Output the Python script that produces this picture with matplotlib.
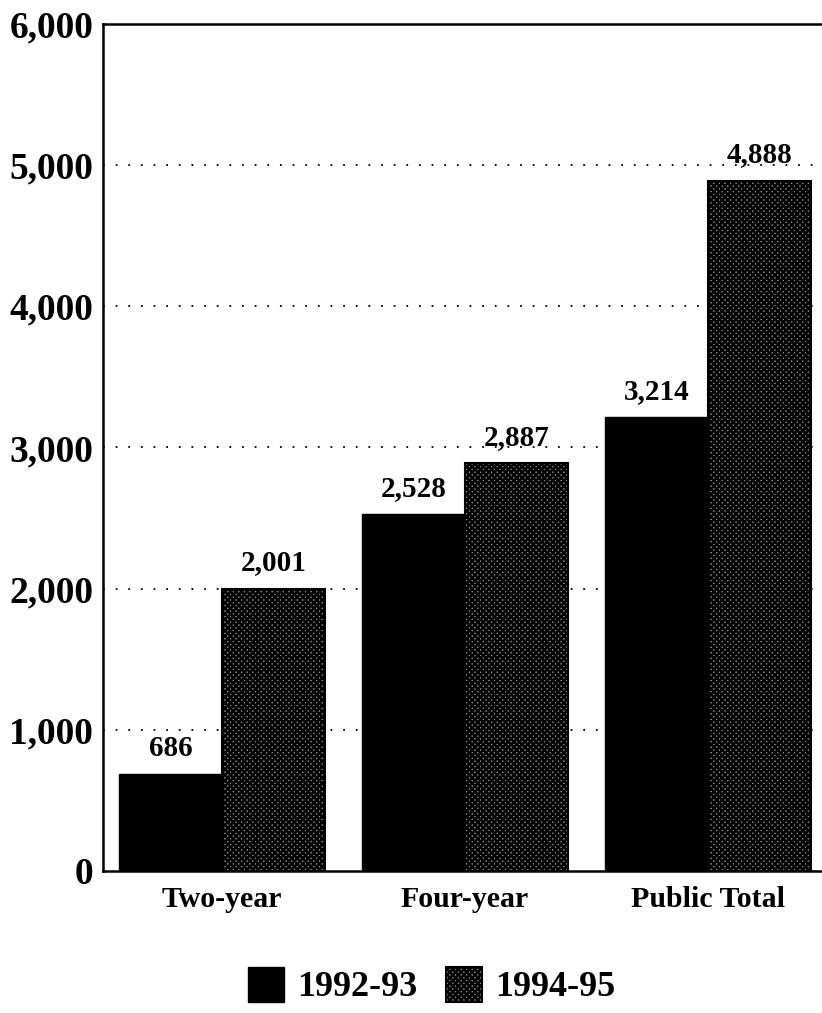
import numpy as np
import matplotlib
matplotlib.use("Agg")
import matplotlib.pyplot as plt

# Data
categories = ["Two-year", "Four-year", "Public Total"]
years = ["1992-93", "1994-95"]
vals_9293 = [686, 2528, 3214]
vals_9495 = [2001, 2887, 4888]
yticks = [0, 1000, 2000, 3000, 4000, 5000, 6000]

plt.rcParams['font.family'] = ['Liberation Serif', 'DejaVu Serif']
plt.rcParams['font.weight'] = 'bold'
plt.rcParams['hatch.linewidth'] = 1.8
plt.rcParams['hatch.color'] = 'black'

fig = plt.figure(figsize=(8.22, 10.13), dpi=100)
ax = fig.add_axes([0.1253, 0.1402, 0.8747, 0.8361])

x = np.arange(len(categories))
w = 0.425
b1 = ax.bar(x - w / 2, vals_9293, w, color='black', edgecolor='black', linewidth=1, label=years[0], zorder=3)
b2 = ax.bar(x + w / 2, vals_9495, w, color='#9a9a9a', edgecolor='black', hatch='xxxxxx', linewidth=1.5,
            label=years[1], zorder=3)

# value labels above bars
for bars, vals in [(b1, vals_9293), (b2, vals_9495)]:
    for rect, v in zip(bars, vals):
        ax.annotate(f"{v:,}", (rect.get_x() + rect.get_width() / 2, v),
                    xytext=(0, 9), textcoords='offset points', ha='center', va='bottom',
                    fontsize=21, fontweight='bold')

ax.set_ylim(0, 6000)
ax.set_xlim(-0.49, 2.47)
ax.set_yticks(yticks)
ax.set_yticklabels([f"{t:,}" for t in yticks], fontsize=27, fontweight='bold')
ax.set_xticks(x)
ax.set_xticklabels(categories, fontsize=21.5, fontweight='bold')
ax.tick_params(axis='y', length=0, pad=7)
ax.tick_params(axis='x', length=0, pad=11)

for t in yticks[1:-1]:
    ax.axhline(t, color='black', linestyle=(0, (1, 6)), linewidth=1.3, zorder=1)

ax.spines['right'].set_visible(False)
for s in ['left', 'top', 'bottom']:
    ax.spines[s].set_linewidth(1.8)

fig.legend(handles=[b1, b2], labels=years, loc='center', bbox_to_anchor=(0.525, 0.027),
           ncol=2, frameon=False, handlelength=1.0, handleheight=1.1,
           handletextpad=0.35, columnspacing=0.8, prop={'weight': 'bold', 'size': 26})

fig.savefig("out.png", dpi=100)
